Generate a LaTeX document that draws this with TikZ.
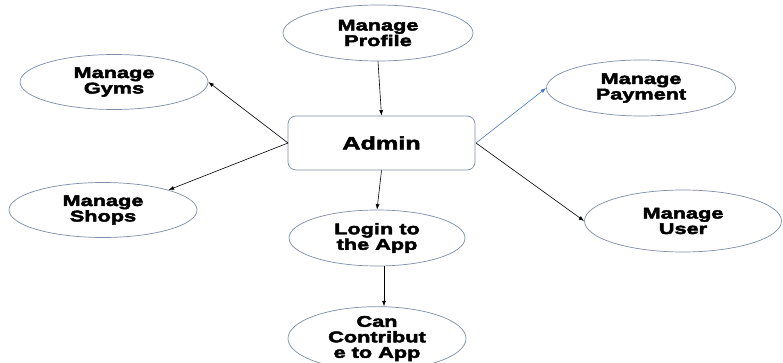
\documentclass[tikz,border=0pt]{standalone}
\usepackage{fontspec}
\setmainfont{Liberation Sans}
\newfontfamily\lblfont[FakeStretch=1.4,FakeBold=3]{Liberation Sans Bold}
\usetikzlibrary{shapes.geometric,arrows.meta}
\definecolor{rim}{HTML}{7F8CA8}
\definecolor{linkblue}{HTML}{4A78C8}
\begin{document}
\begin{tikzpicture}[x=1pt,y=-1pt,
  usecase/.style={draw=rim,line width=0.7pt,ellipse,fill=white,
    minimum width=#1,inner sep=0pt,align=center,
    font=\lblfont\fontsize{15.5}{15.5}\selectfont},
  usecase/.default=190pt,
  actor/.style={draw=rim,line width=0.7pt,rounded corners=8pt,fill=white,
    minimum width=187pt,minimum height=54pt,
    font=\lblfont\fontsize{18}{18}\selectfont},
  link/.style={line width=0.6pt,-{Latex[length=5.5pt,width=4pt]}}]
\useasboundingbox (0,0) rectangle (783,363);
\clip (0,0) rectangle (783,363);

\node[actor] (admin) at (381.5,143) {Admin};

\node[usecase, minimum height=56pt] (profile) at (378,33) {Manage\\Profile};
\node[usecase=188pt, minimum height=55pt] (gyms) at (114,82) {Manage\\Gyms};
\node[usecase=188pt, minimum height=55pt] (shops) at (103,210) {Manage\\Shops};
\node[usecase=189pt, minimum height=56pt] (payment) at (641,88) {Manage\\Payment};
\node[usecase=197pt, minimum height=62pt] (user) at (683,221) {Manage\\User};
\node[usecase=176pt, minimum height=56pt] (login) at (377,238) {Login to\\the App};
\node[usecase=178pt, minimum height=57pt] (contrib) at (377,338.5) {Can\\Contribut\\e to App};

\coordinate (aL) at (288,143);
\coordinate (aR) at (476,143);

\draw[link] (profile.south) -- (admin.north);
\draw[link] (aL) -- (gyms.east);
\draw[link] (aL) -- (shops.17);
\draw[link, draw=linkblue, -{Latex[length=5.5pt,width=4pt,fill=linkblue]}] (aR) -- (payment.west);
\draw[link] (aR) -- (user.west);
\draw[link] (admin.south) -- (login.north);
\draw[link] (login.south -| 384,0) -- (contrib.north -| 384,0);
\end{tikzpicture}
\end{document}
